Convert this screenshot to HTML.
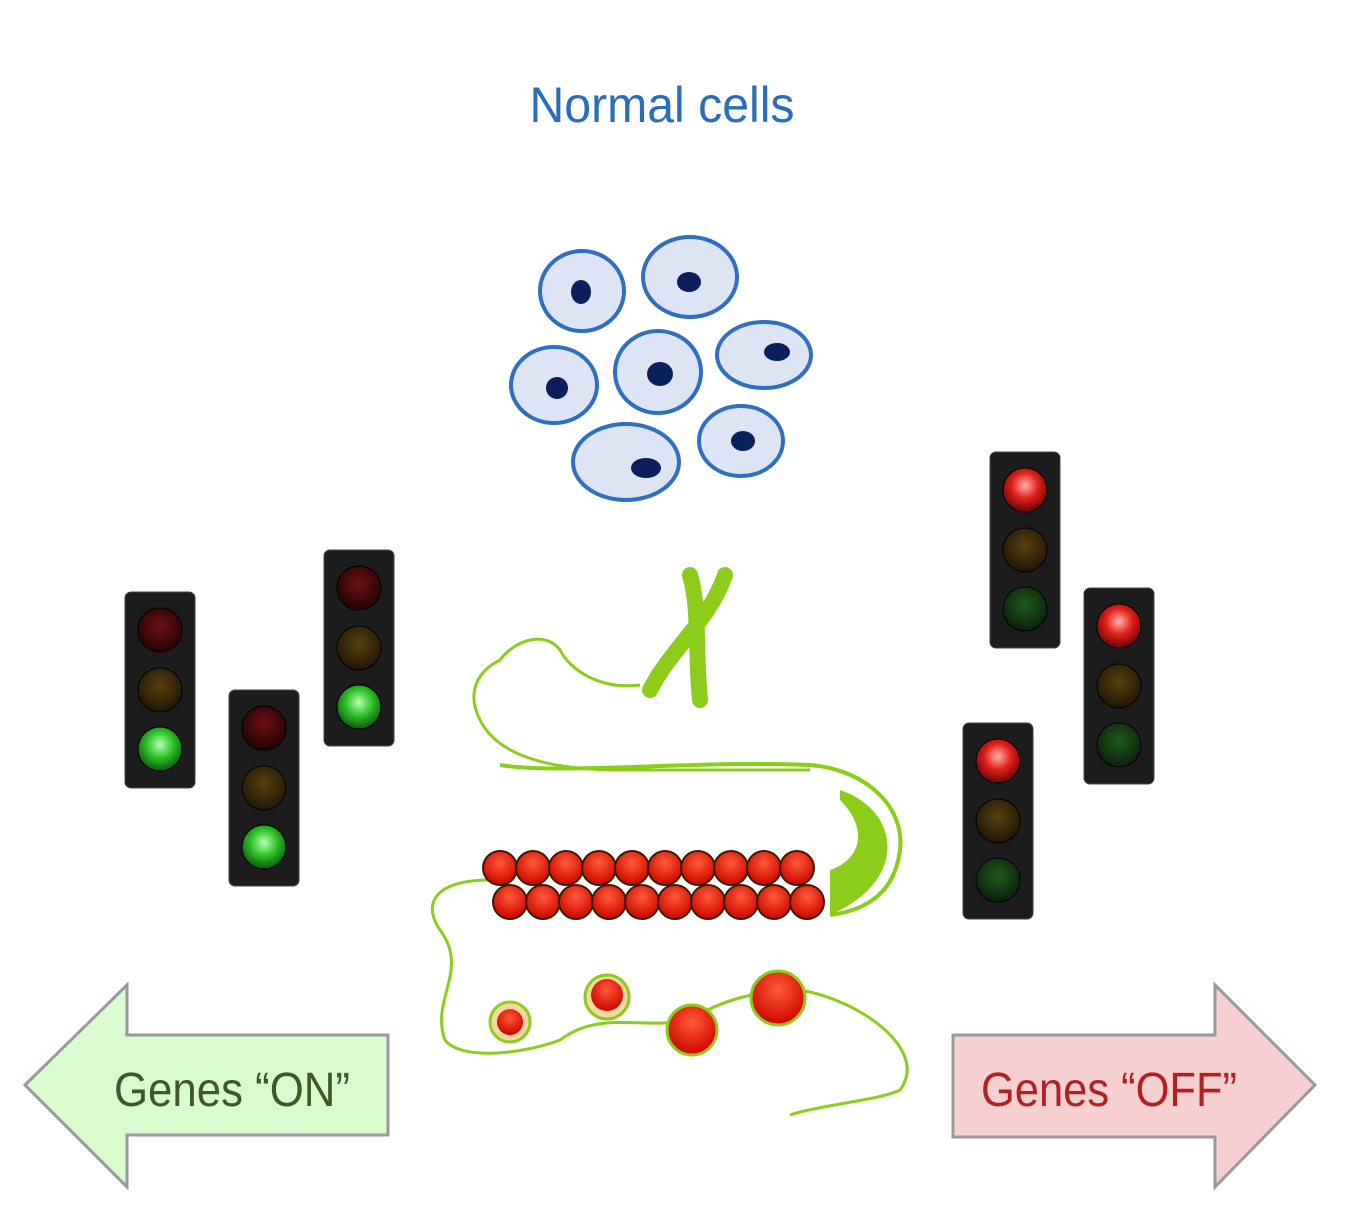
<!DOCTYPE html>
<html><head><meta charset="utf-8"><style>
html,body{margin:0;padding:0;background:#fff;}
svg{display:block}
text{font-family:"Liberation Sans",sans-serif;}
</style></head><body>
<svg width="1350" height="1232" viewBox="0 0 1350 1232">
<defs>
<radialGradient id="gOn" cx="50%" cy="40%" r="60%"><stop offset="0" stop-color="#b6ffb0"/><stop offset="0.5" stop-color="#2fc12a"/><stop offset="1" stop-color="#0c5a0c"/></radialGradient>
<radialGradient id="rOn" cx="50%" cy="40%" r="60%"><stop offset="0" stop-color="#ffb0a8"/><stop offset="0.5" stop-color="#e0201a"/><stop offset="1" stop-color="#6a0505"/></radialGradient>
<radialGradient id="gOff" cx="50%" cy="40%" r="60%"><stop offset="0" stop-color="#1f5a1f"/><stop offset="1" stop-color="#0a200a"/></radialGradient>
<radialGradient id="rOff" cx="50%" cy="40%" r="60%"><stop offset="0" stop-color="#6a1010"/><stop offset="1" stop-color="#250404"/></radialGradient>
<radialGradient id="yOff" cx="50%" cy="40%" r="60%"><stop offset="0" stop-color="#5a4010"/><stop offset="1" stop-color="#201505"/></radialGradient>
<radialGradient id="nuc" cx="50%" cy="35%" r="60%"><stop offset="0" stop-color="#ff5a3a"/><stop offset="1" stop-color="#d00a00"/></radialGradient>
</defs>

<text x="662" y="122" text-anchor="middle" font-size="50" fill="#2a6ebb" textLength="265" lengthAdjust="spacingAndGlyphs">Normal cells</text>

<g fill="#dde4f3" stroke="#2f6fc0" stroke-width="4">
<ellipse cx="582" cy="291" rx="42" ry="40"/><ellipse cx="690" cy="277" rx="47" ry="40"/>
<ellipse cx="554" cy="385" rx="43" ry="38"/><ellipse cx="658" cy="372" rx="43" ry="41"/>
<ellipse cx="764" cy="355" rx="47" ry="33"/><ellipse cx="626" cy="462" rx="53" ry="38"/>
<ellipse cx="741" cy="441" rx="42" ry="35"/>
</g>
<g fill="#0a1f5c">
<ellipse cx="581" cy="292" rx="10" ry="12"/><ellipse cx="689" cy="282" rx="12" ry="10"/>
<ellipse cx="557" cy="388" rx="11" ry="11"/><ellipse cx="660" cy="374" rx="13" ry="12"/>
<ellipse cx="777" cy="352" rx="13" ry="9"/><ellipse cx="646" cy="468" rx="15" ry="10"/>
<ellipse cx="743" cy="441" rx="12" ry="10"/>
</g>

<g id="lights"></g>

<g fill="none" stroke="#8ccc1a" stroke-width="3">
<path d="M690 575 C700 610 695 650 700 700" stroke-width="16" stroke-linecap="round"/>
<path d="M725 575 C710 620 670 650 650 690" stroke-width="16" stroke-linecap="round"/>
<path d="M640 685 C600 690 570 670 560 650 C545 630 515 640 500 660 C480 670 465 690 480 720 C500 760 560 770 620 770 L810 770"/>
<path d="M500 765 C560 775 700 760 810 765 C870 770 905 810 900 850 C895 890 870 910 830 915" stroke-width="4"/>
<path d="M840 790 C900 810 910 880 830 915 L830 870 C860 860 870 830 840 800 Z" fill="#8ccc1a" stroke="none"/>
<path d="M490 880 C440 880 420 900 440 930 C470 970 430 1000 445 1040 C460 1060 520 1055 560 1040 C600 1010 640 1030 690 1020 C720 1000 760 990 800 990 C860 1000 930 1050 900 1090 C880 1100 820 1105 790 1115" stroke-width="3"/>
</g>
<g id="nucs"></g>
<g>
<circle cx="510" cy="1022" r="20" fill="#f4d8a0" stroke="#8ccc1a" stroke-width="3"/><circle cx="510" cy="1022" r="13" fill="url(#nuc)"/>
<circle cx="607" cy="997" r="22" fill="#f4d8a0" stroke="#8ccc1a" stroke-width="3"/><circle cx="607" cy="995" r="16" fill="url(#nuc)"/>
<ellipse cx="692" cy="1030" rx="25" ry="25" fill="url(#nuc)" stroke="#8ccc1a" stroke-width="3"/>
<ellipse cx="778" cy="998" rx="27" ry="27" fill="url(#nuc)" stroke="#8ccc1a" stroke-width="3"/>
</g>

<g>
<polygon points="25,1085 127,985 127,1035 388,1035 388,1135 127,1135 127,1187" fill="#d9fbd0" stroke="#999" stroke-width="3"/>
<text x="232" y="1106" text-anchor="middle" font-size="48" fill="#3b5a26" textLength="236" lengthAdjust="spacingAndGlyphs">Genes “ON”</text>
</g>
<g>
<polygon points="1315,1085 1215,985 1215,1035 953,1035 953,1137 1215,1137 1215,1187" fill="#f6d0d0" stroke="#999" stroke-width="3"/>
<text x="1109" y="1106" text-anchor="middle" font-size="48" fill="#b22020" textLength="256" lengthAdjust="spacingAndGlyphs">Genes “OFF”</text>
</g>
</svg>
<script>
const NS='http://www.w3.org/2000/svg';
const lights=[[125,592,1],[229,690,1],[324,550,1],[990,452,0],[1084,588,0],[963,723,0]];
const lg=document.getElementById('lights');
lights.forEach(([x,y,on])=>{
  const g=document.createElementNS(NS,'g');
  
  
  const r=document.createElementNS(NS,'rect');
  r.setAttribute('x',x);r.setAttribute('y',y);r.setAttribute('width',70);r.setAttribute('height',196);r.setAttribute('rx',6);
  r.setAttribute('fill','#1c1c1c');r.setAttribute('stroke','#444');g.appendChild(r);
  const fills=on?['url(#rOff)','url(#yOff)','url(#gOn)']:['url(#rOn)','url(#yOff)','url(#gOff)'];
  [38,98,157].forEach((o,i)=>{const c=document.createElementNS(NS,'circle');
    c.setAttribute('cx',x+35);c.setAttribute('cy',y+o);c.setAttribute('r',22);c.setAttribute('fill',fills[i]);c.setAttribute('stroke','#000');g.appendChild(c);});
  lg.appendChild(g);
});
const ng=document.getElementById('nucs');
for(let row=0;row<2;row++)for(let i=0;i<10;i++){
  const c=document.createElementNS(NS,'ellipse');
  c.setAttribute('cx',500+i*33+row*10);c.setAttribute('cy',868+row*34);c.setAttribute('rx',17);c.setAttribute('ry',17);
  c.setAttribute('fill','url(#nuc)');c.setAttribute('stroke','#3a1a00');c.setAttribute('stroke-width',2);
  ng.appendChild(c);
}
</script>
</body></html>
